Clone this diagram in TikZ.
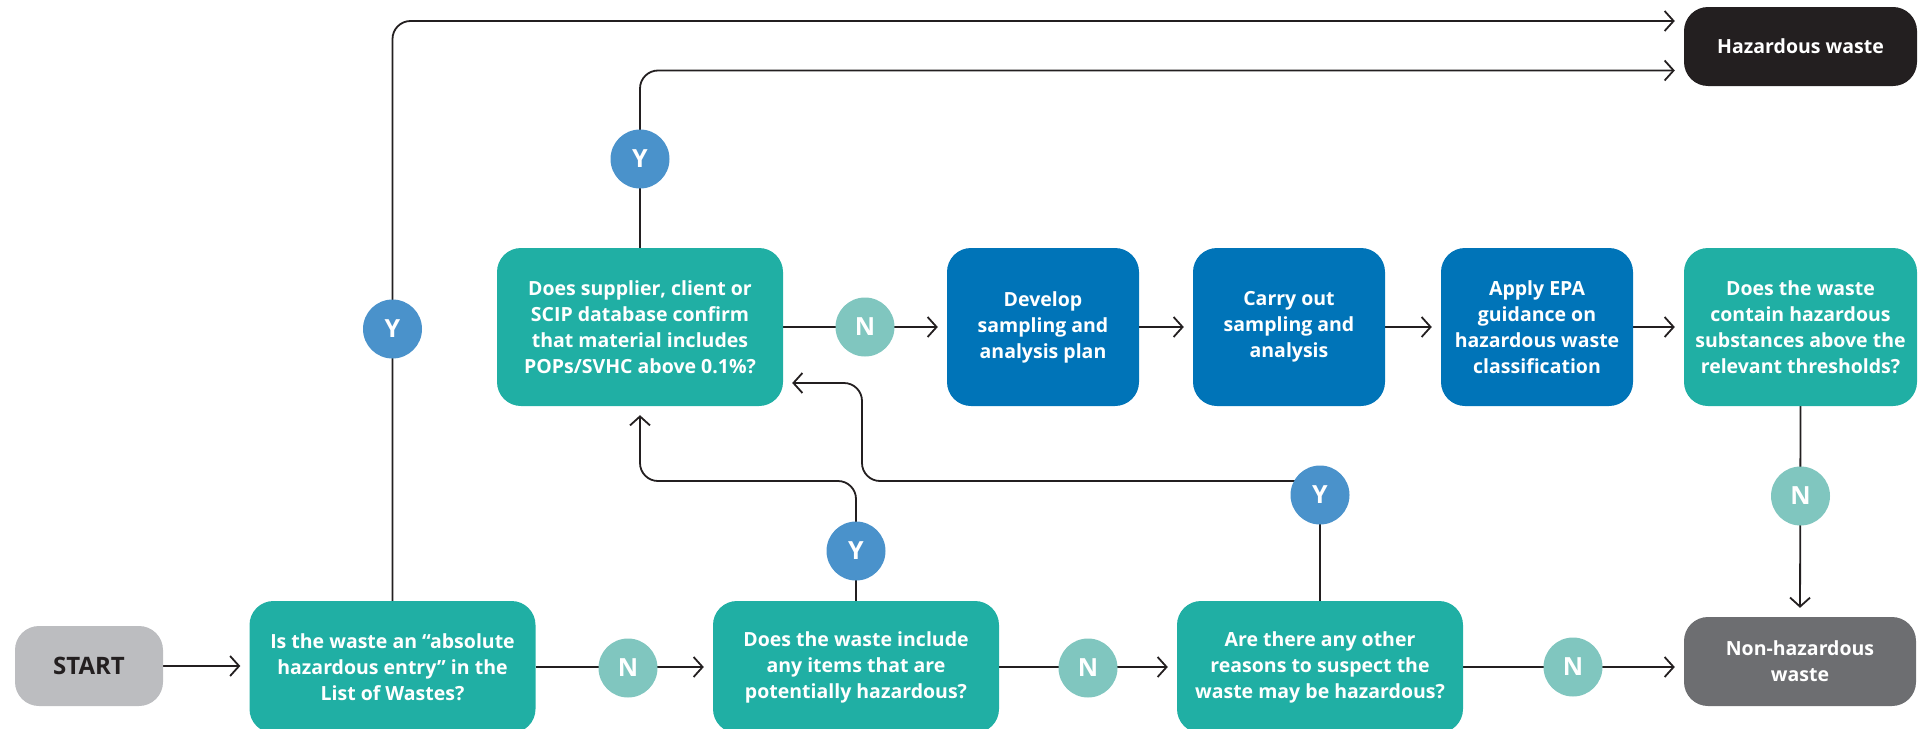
\documentclass[tikz,border=0pt]{standalone}
\usepackage{fontspec}
\setmainfont{Open Sans}
\usetikzlibrary{arrows.meta}
\pgfdeclarelayer{bg}
\pgfsetlayers{bg,main}
\definecolor{cTeal}{HTML}{20AFA4}
\definecolor{cBlue}{HTML}{0074B8}
\definecolor{cYes}{HTML}{4A92CB}
\definecolor{cNo}{HTML}{80C6BF}
\definecolor{cStart}{HTML}{BCBDC0}
\definecolor{cNonHaz}{HTML}{6D6E71}
\definecolor{cHaz}{HTML}{231F20}
\definecolor{cLine}{HTML}{231F20}
\begin{document}
\begin{tikzpicture}[x=1pt,y=-1pt,
  box/.style={rounded corners=24pt, text=white, align=center, inner sep=0pt,
    font=\bfseries\fontsize{19.5}{26}\selectfont},
  qbox/.style={box, fill=cTeal, minimum width=286pt, minimum height=132pt},
  tbox/.style={box, fill=cTeal, minimum width=233pt, minimum height=158pt},
  abox/.style={box, fill=cBlue, minimum width=192pt, minimum height=158pt},
  circ/.style={circle, minimum size=59pt, inner sep=0pt, text=white,
    font=\bfseries\fontsize{25}{25}\selectfont},
  yes/.style={circ, fill=cYes},
  no/.style={circ, fill=cNo},
  line/.style={draw=cLine, line width=1.8pt, rounded corners=18pt},
  arr/.style={line, -{Straight Barb[length=9pt,width=20pt]}, shorten >=9pt}
]
\useasboundingbox (0,0) rectangle (1919,728);
\clip (0,0) rectangle (1919,728);

% terminals
\node[box, fill=cStart, text=cHaz, minimum width=148pt, minimum height=80pt,
  font=\bfseries\fontsize{24}{28}\selectfont] (start) at (89,666) {START};
\node[box, fill=cHaz, minimum width=233pt, minimum height=79pt] (haz) at (1800.5,46.5) {Hazardous waste};
\node[box, fill=cNonHaz, minimum width=232pt, minimum height=89pt] (nonhaz) at (1800,661.5) {Non-hazardous\\waste};

% bottom row questions
\node[qbox] (q1) at (392.5,667) {Is the waste an “absolute\\hazardous entry” in the\\List of Wastes?};
\node[qbox] (q2) at (856,667) {Does the waste include\\any items that are\\potentially hazardous?};
\node[qbox] (q3) at (1320,667) {Are there any other\\reasons to suspect the\\waste may be hazardous?};

% middle row
\node[box, fill=cTeal, minimum width=286pt, minimum height=158pt] (q4) at (640,327) {Does supplier, client or\\SCIP database confirm\\that material includes\\POPs/SVHC above 0.1\%?};
\node[abox] (dev) at (1043,327) {Develop\\sampling and\\analysis plan};
\node[abox] (carry) at (1289,327) {Carry out\\sampling and\\analysis};
\node[abox] (epa) at (1537,327) {Apply EPA\\guidance on\\hazardous waste\\classification};
\node[tbox] (q5) at (1800.5,327) {Does the waste\\contain hazardous\\substances above the\\relevant thresholds?};

% answer circles
\node[yes] (y1) at (392.5,329) {Y};
\node[yes] (y4) at (640,159) {Y};
\node[yes] (y2) at (856,551) {Y};
\node[yes] (y3) at (1320,495) {Y};
\node[no] (n1) at (628,668) {N};
\node[no] (n2) at (1088,668) {N};
\node[no] (n3) at (1573,667) {N};
\node[no] (n4) at (865,327) {N};
\node[no] (n5) at (1800.5,496) {N};

\coordinate (j) at (760,481);
\coordinate (k) at (862,481);

\begin{pgfonlayer}{bg}
\draw[arr] (start.east) -- (start.east -| q1.west);
\draw[arr] (q1.east) -- (q2.west);
\draw[arr] (q2.east) -- (q3.west);
\draw[arr] (q3.east) -- (q3.east -| nonhaz.west);
\draw[arr] (q4.east) -- (dev.west);
\draw[arr] (dev.east) -- (carry.west);
\draw[arr] (carry.east) -- (epa.west);
\draw[arr] (epa.east) -- (q5.west);
\draw[arr] (q5.south) -- (nonhaz.north);
\draw[arr] (q1.north) |- ([yshift=25.5pt]haz.west);
\draw[arr] (q4.north) |- ([yshift=-24pt]haz.west);
\draw[arr] (q2.north) |- (j) -| (q4.south);
\draw[arr] (q3.north) |- (k) |- ([yshift=-56pt]q4.east);
\end{pgfonlayer}
\end{tikzpicture}
\end{document}
